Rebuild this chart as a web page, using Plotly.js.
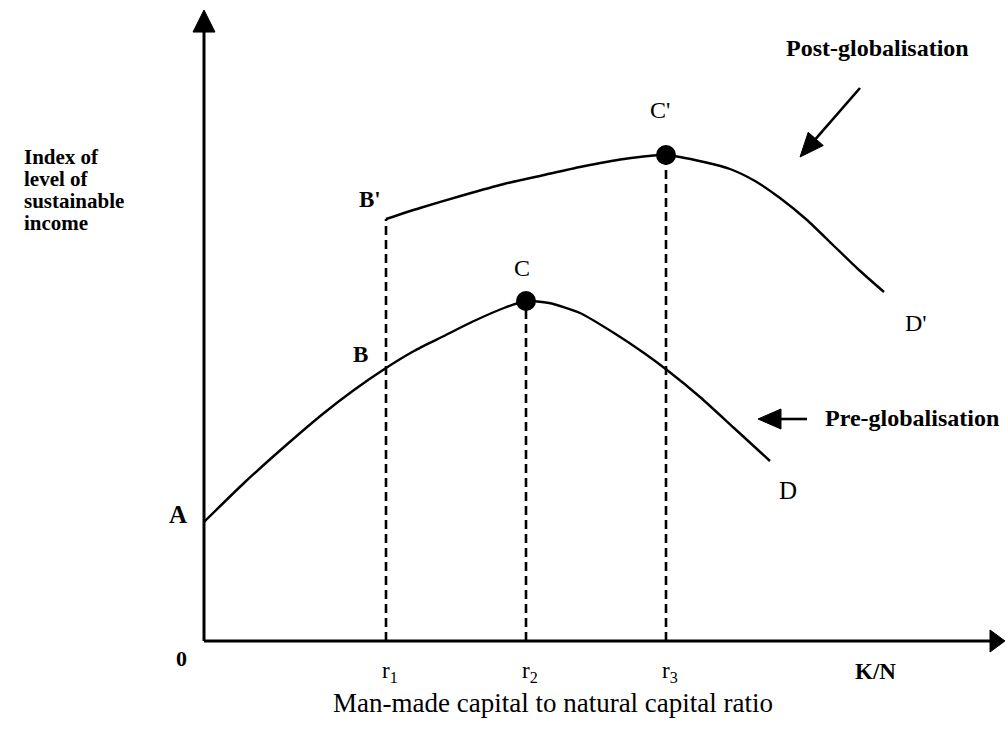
<!DOCTYPE html>
<html><head><meta charset="utf-8">
<script src="https://cdn.plot.ly/plotly-3.0.1.min.js"></script>
<style>html,body{margin:0;padding:0;background:#fff}</style>
</head><body><div id="chart" style="width:1005px;height:743px"></div>
<script>
// Pre-globalisation curve A-B-C-D (index units)
const preX = [0, 40, 80, 120, 150, 182, 210, 240, 270, 300, 322, 345, 376, 410, 440, 463, 496, 530, 566];
const preY = [119, 158, 194, 228, 251, 273, 290, 305, 320, 333, 340, 338, 328, 308, 288, 271, 244, 213, 180];
// Post-globalisation curve B'-C'-D'
const postX = [182, 216, 260, 300, 340, 376, 420, 462, 500, 526, 551, 576, 603, 629, 655, 680];
const postY = [422, 433, 446, 457, 466, 474, 482, 486, 479, 472, 460, 443, 421, 396, 371, 349];
// Ratios r1, r2, r3 and the heights the dashed guides reach
const rX = [182, 322, 462];
const rTop = [422, 340, 486];
const rLabels = ['r<sub>1</sub>', 'r<sub>2</sub>', 'r<sub>3</sub>'];
// Peaks C and C'
const peakX = [322, 462];
const peakY = [340, 486];
const yLabelLines = ['Index of', 'level of', 'sustainable', 'income'];

const FONT = 'Liberation Serif, Times New Roman, serif';
const traces = [];
rX.forEach((x, i) => {
  traces.push({x: [x, x], y: [0, rTop[i]], mode: 'lines', type: 'scatter',
    line: {color: '#000', width: 2.6, dash: '9px,5px'}, hoverinfo: 'skip', showlegend: false});
});
traces.push({x: preX, y: preY, mode: 'lines', type: 'scatter', name: 'Pre-globalisation',
  line: {color: '#000', width: 2.4, shape: 'spline', smoothing: 0.6}, showlegend: false});
traces.push({x: postX, y: postY, mode: 'lines', type: 'scatter', name: 'Post-globalisation',
  line: {color: '#000', width: 2.4, shape: 'spline', smoothing: 0.6}, showlegend: false});
traces.push({x: peakX, y: peakY, mode: 'markers', type: 'scatter',
  marker: {color: '#000', size: 20}, showlegend: false});

function txt(x, y, text, size, extra) {
  return Object.assign({x: x, y: y, xref: 'x', yref: 'y', text: text, showarrow: false,
    font: {family: FONT, size: size, color: '#000'}, xanchor: 'center', yanchor: 'middle'}, extra || {});
}
const PP = {xref: 'paper', yref: 'paper'};
const XP = {yref: 'paper'};
const ann = [];
ann.push(txt(-0.0325, 0.1966, '<b>A</b>', 25, PP));
ann.push(txt(156, 287, '<b>B</b>', 23));
ann.push(txt(166, 442, "<b>B'</b>", 23));
ann.push(txt(318, 373, 'C', 24));
ann.push(txt(456, 531, "C'", 24));
ann.push(txt(584, 151, 'D', 25));
ann.push(txt(712, 318, "D'", 24));
ann.push(txt(-0.0275, -0.028, '<b>0</b>', 22, PP));
rX.forEach((x, i) => ann.push(txt(x + 4, -0.048, rLabels[i], 23, XP)));
ann.push(txt(671, -0.047, '<b>K/N</b>', 23, XP));
ann.push(txt(673, 593, '<b>Post-globalisation</b>', 24));
ann.push(txt(708, 223, '<b>Pre-globalisation</b>', 24));
ann.push(txt(0.4357, -0.097, 'Man-made capital to natural capital ratio', 27, PP));
yLabelLines.forEach((t, i) => ann.push(txt(-0.227, 0.755 - 0.0343 * i, '<b>' + t + '</b>', 21,
  {xref: 'paper', yref: 'paper', xanchor: 'left'})));

const BLK = {color: '#000', width: 3};
const shapes = [
  // y axis with arrowhead
  {type: 'line', xref: 'paper', yref: 'paper', x0: 0, y0: 0, x1: 0, y1: 0.955, line: BLK},
  {type: 'path', xref: 'paper', yref: 'paper', path: 'M -0.0137 0.950 L 0 0.9844 L 0.0137 0.950 Z',
    fillcolor: '#000', line: {color: '#000', width: 1}},
  // x axis with arrowhead
  {type: 'line', xref: 'paper', yref: 'paper', x0: 0, y0: 0, x1: 0.985, y1: 0, line: BLK},
  {type: 'path', xref: 'paper', yref: 'paper', path: 'M 0.9813 0.0172 L 1.0 0 L 0.9813 -0.0172 Z',
    fillcolor: '#000', line: {color: '#000', width: 1}},
  // pointer to post-globalisation curve
  {type: 'line', xref: 'x', yref: 'y', x0: 656, y0: 553, x1: 611.7, y1: 502.1, line: {color: '#000', width: 2.6}},
  {type: 'path', xref: 'x', yref: 'y', path: 'M 619.3 495.5 L 596 484 L 604.2 508.7 Z',
    fillcolor: '#000', line: {color: '#000', width: 1}},
  // pointer to pre-globalisation curve
  {type: 'line', xref: 'x', yref: 'y', x0: 603, y0: 222, x1: 575, y1: 222, line: {color: '#000', width: 2.6}},
  {type: 'path', xref: 'x', yref: 'y', path: 'M 577 232 L 554 222 L 577 212 Z',
    fillcolor: '#000', line: {color: '#000', width: 1}}
];

const layout = {
  width: 1005, height: 743,
  margin: {l: 204, r: 0, t: 0, b: 102},
  paper_bgcolor: '#fff', plot_bgcolor: '#fff',
  xaxis: {range: [0, 801], showgrid: false, zeroline: false, showticklabels: false, showline: false, fixedrange: true},
  yaxis: {range: [0, 641], showgrid: false, zeroline: false, showticklabels: false, showline: false, fixedrange: true},
  annotations: ann,
  shapes: shapes,
  showlegend: false
};
Plotly.newPlot('chart', traces, layout, {displayModeBar: false, staticPlot: true});
</script>
</body></html>
